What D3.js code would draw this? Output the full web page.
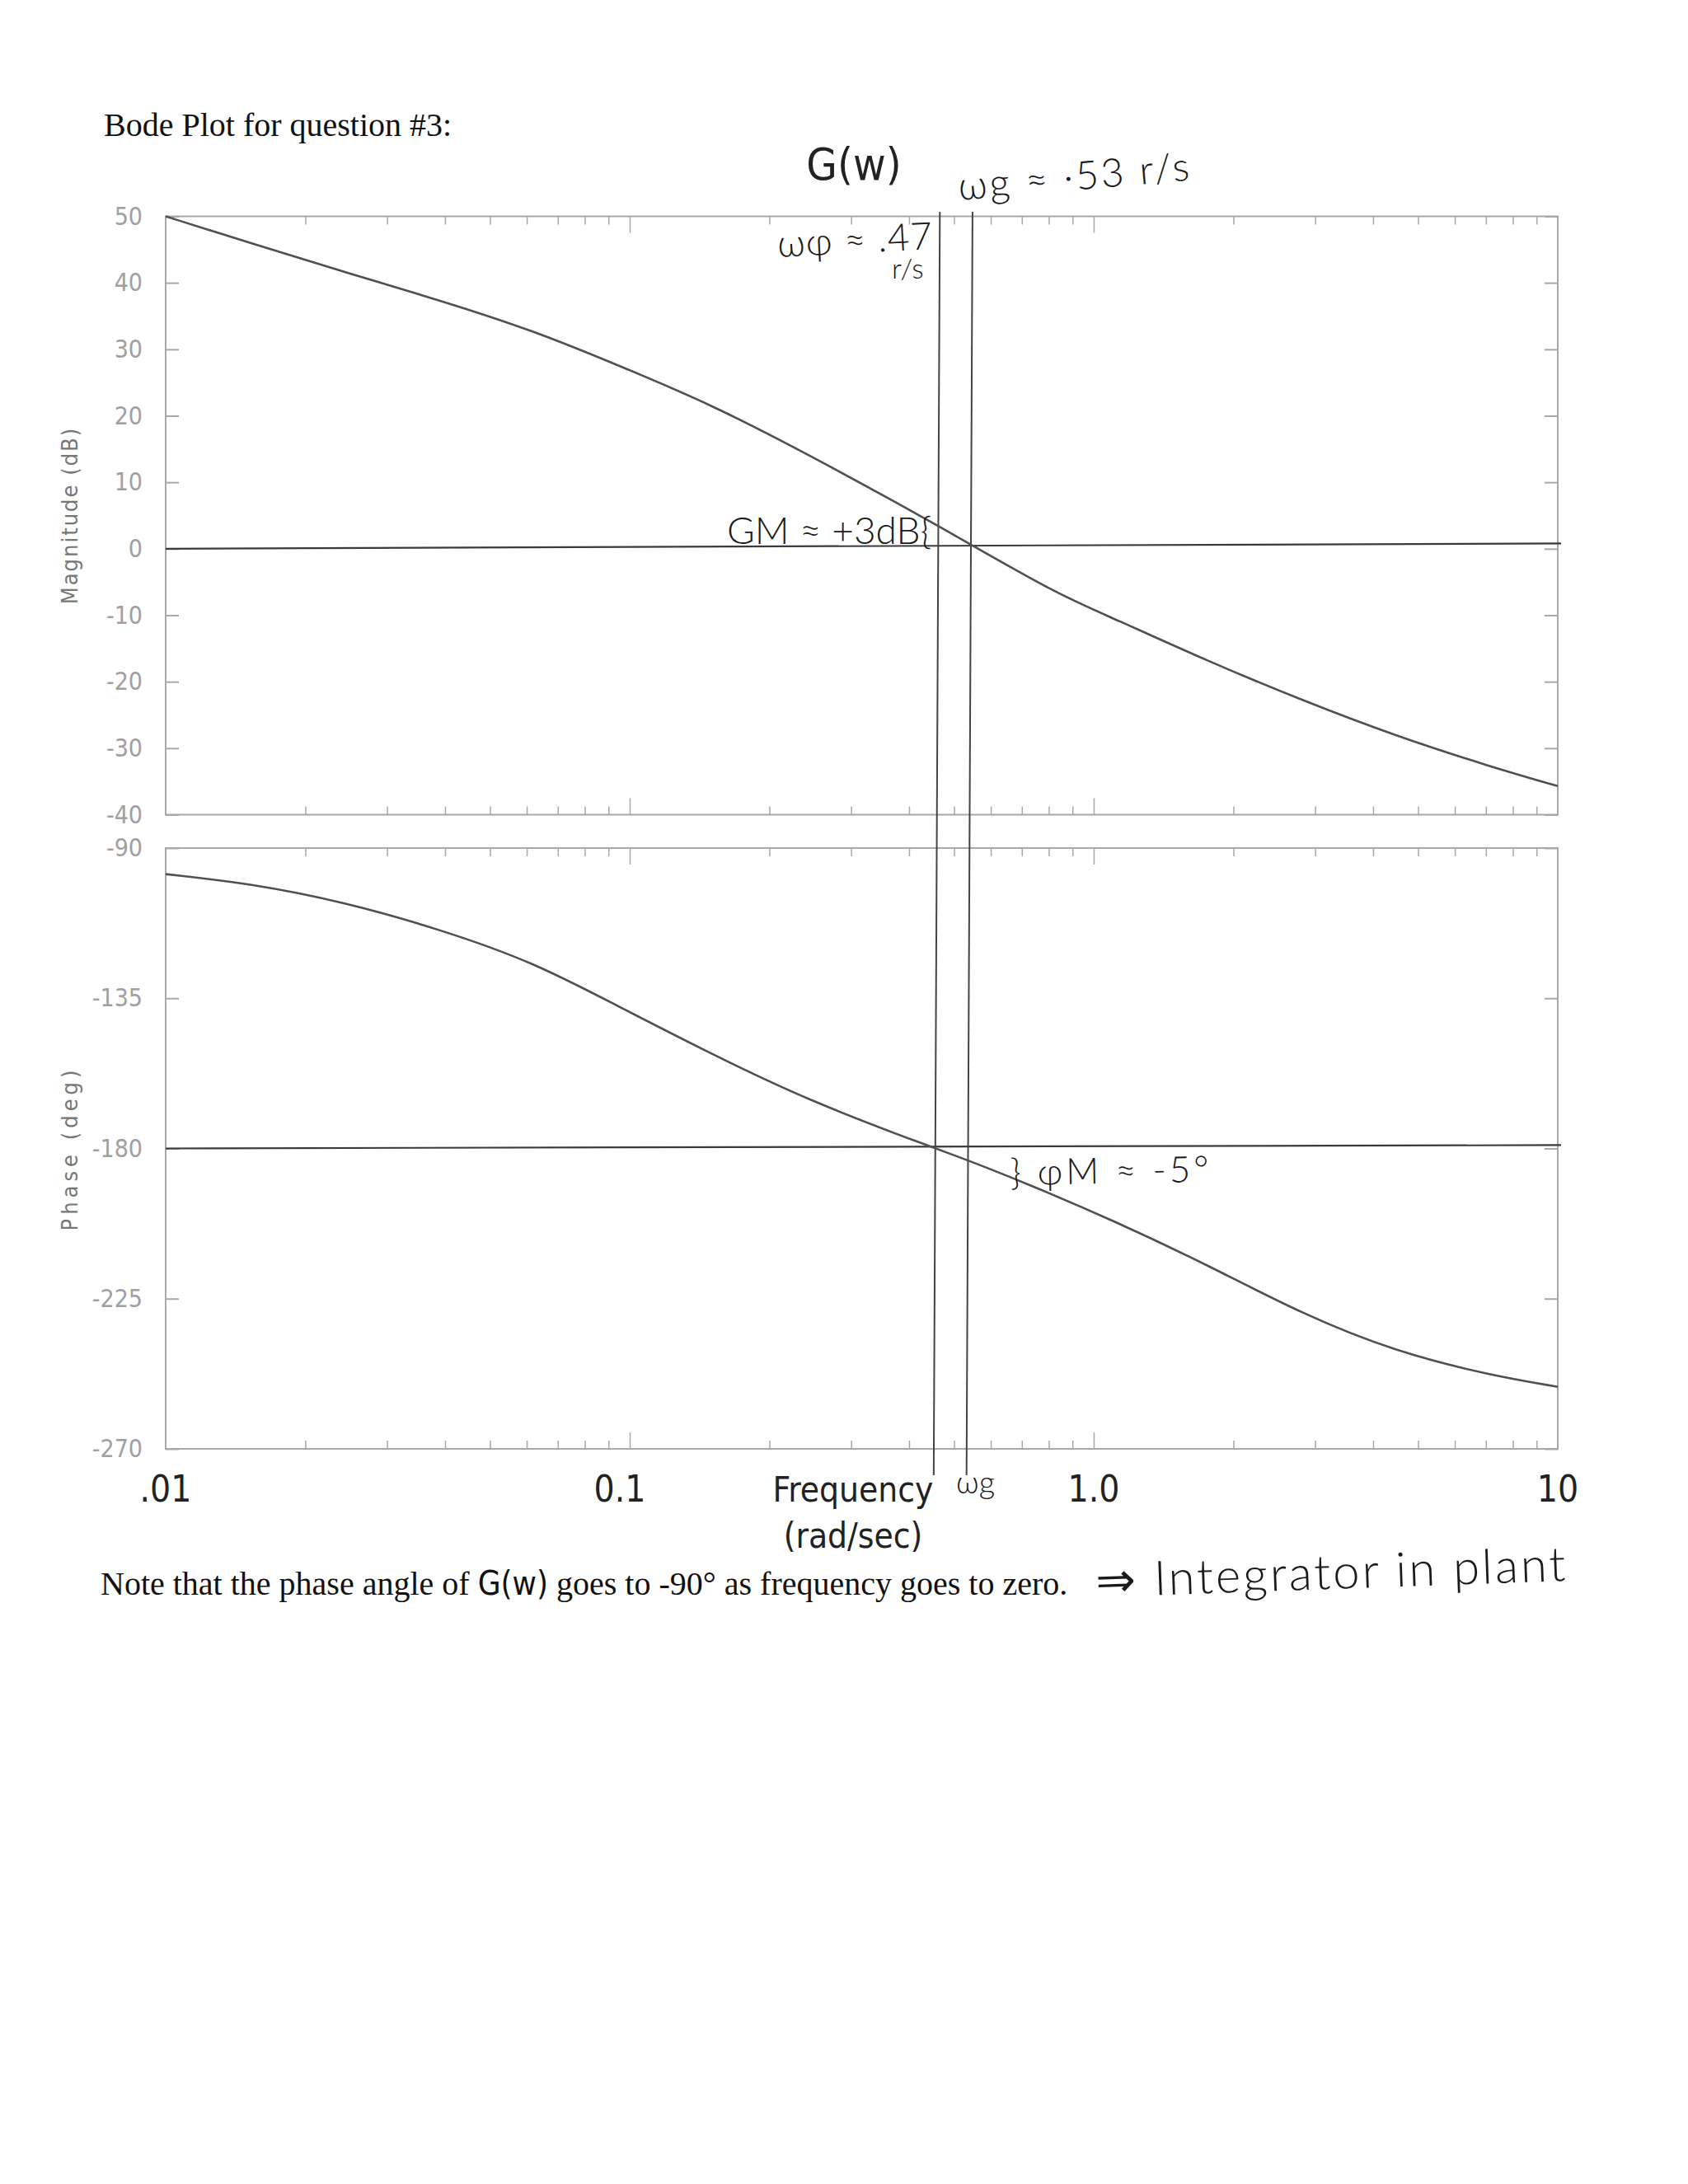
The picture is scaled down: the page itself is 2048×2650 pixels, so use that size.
<!DOCTYPE html>
<html>
<head>
<meta charset="utf-8">
<script src="https://cdn.jsdelivr.net/npm/d3@7"></script>
<style>
    body { margin: 0; background: #fff; }
    .hand { font-family: "Lato", "DejaVu Sans", sans-serif; font-weight: 300; fill: #1a1a1a; }
    .sans { font-family: "DejaVu Sans Condensed", "DejaVu Sans", sans-serif; font-stretch: condensed; }
    .serif { font-family: "Liberation Serif", "Times New Roman", serif; fill: #111; }
</style>
</head>
<body>
<div id="chart"></div>
<script>
// Frequencies (rad/sec) and values
const magFreq = [0.01, 0.0152, 0.0243, 0.0389, 0.0621, 0.0944, 0.151, 0.242, 0.386, 0.545, 0.845, 1.099, 1.76, 2.81, 4.49, 7.18, 10];
const magDb = [50, 46.0, 41.6, 37.4, 32.8, 27.6, 21.6, 14.2, 6.5, 0.6, -7.0, -10.4, -16.9, -22.8, -28.2, -32.8, -35.7];

const phaseFreq = [0.01, 0.0152, 0.0243, 0.0389, 0.0621, 0.0944, 0.151, 0.242, 0.451, 0.526, 0.72, 1.099, 1.76, 2.81, 4.49, 7.18, 10];
const phaseDeg = [-97.8, -100.6, -106.2, -114.3, -124.2, -137.4, -151.9, -165.6, -179.8, -183.1, -190.6, -201.5, -214.9, -229.6, -241.0, -248.0, -251.4];

// Axis ticks
const magTicks = [50, 40, 30, 20, 10, 0, -10, -20, -30, -40];
const phaseTicks = [-90, -135, -180, -225, -270];
const decadeTicks = [0.01, 0.1, 1, 10];
const decadeLabels = [".01", "0.1", "1.0", "10"];

// Hand drawn marker lines (freq at top and bottom of the pencil line)
const phiLine = [0.466, 0.452];   // w_phi ~ .47
const gainLine = [0.548, 0.532];  // w_g ~ .53

const width = 2048;
const height = 2650;

const svg = d3.select("#chart")
    .append("svg")
    .attr("width", width)
    .attr("height", height);

svg.append("rect").attr("width", width).attr("height", height).attr("fill", "#fff");

// Scales
const x = d3.scaleLog().domain([0.01, 10]).range([201, 1890]);
const yMag = d3.scaleLinear().domain([-40, 50]).range([988.5, 262.5]);
const yPh = d3.scaleLinear().domain([-270, -90]).range([1758, 1029]);

// minor log ticks 2..9 in each decade
const minorTicks = [];
[0.01, 0.1, 1].forEach(function (d) {
    for (let k = 2; k <= 9; k++) minorTicks.push(d * k);
});

const gray = "#a8a8a8";

function drawPanel(yScale, ticks) {
    const top = yScale.range()[1];
    const bottom = yScale.range()[0];
    const g = svg.append("g");

    // frame
    g.append("rect")
        .attr("x", x.range()[0]).attr("y", top)
        .attr("width", x.range()[1] - x.range()[0])
        .attr("height", bottom - top)
        .attr("fill", "none")
        .attr("stroke", gray)
        .attr("stroke-width", 2);

    // left axis with labels, ticks pointing inward
    g.append("g")
        .attr("transform", `translate(${x.range()[0]},0)`)
        .call(d3.axisLeft(yScale).tickValues(ticks).tickSize(-16).tickPadding(28).tickFormat(d => d))
        .call(a => a.select(".domain").remove())
        .call(a => a.selectAll("line").attr("stroke", gray).attr("stroke-width", 2))
        .call(a => a.selectAll("text").attr("class", "sans").attr("fill", "#a0a0a0").style("font-size", "30px"));

    // right axis, ticks only
    g.append("g")
        .attr("transform", `translate(${x.range()[1]},0)`)
        .call(d3.axisRight(yScale).tickValues(ticks).tickSize(-16).tickFormat(""))
        .call(a => a.select(".domain").remove())
        .call(a => a.selectAll("line").attr("stroke", gray).attr("stroke-width", 2));

    // top and bottom log ticks
    [[top, d3.axisTop], [bottom, d3.axisBottom]].forEach(function (p) {
        g.append("g")
            .attr("transform", `translate(0,${p[0]})`)
            .call(p[1](x).tickValues(minorTicks).tickSize(-10).tickFormat(""))
            .call(a => a.select(".domain").remove())
            .call(a => a.selectAll("line").attr("stroke", gray).attr("stroke-width", 1.5));
        g.append("g")
            .attr("transform", `translate(0,${p[0]})`)
            .call(p[1](x).tickValues([0.1, 1]).tickSize(-20).tickFormat(""))
            .call(a => a.select(".domain").remove())
            .call(a => a.selectAll("line").attr("stroke", gray).attr("stroke-width", 1.5));
    });
}

drawPanel(yMag, magTicks);
drawPanel(yPh, phaseTicks);

// Hand drawn reference lines: 0 dB and -180 deg
svg.append("line")
    .attr("x1", x(0.01)).attr("x2", x(10) + 4)
    .attr("y1", yMag(0)).attr("y2", yMag(0.8))
    .attr("stroke", "#3a3a3a").attr("stroke-width", 2.2);
svg.append("line")
    .attr("x1", x(0.01)).attr("x2", x(10) + 4)
    .attr("y1", yPh(-180)).attr("y2", yPh(-179))
    .attr("stroke", "#3a3a3a").attr("stroke-width", 2.2);

// vertical pencil lines at w_phi and w_g
[phiLine, gainLine].forEach(function (l) {
    svg.append("line")
        .attr("x1", x(l[0])).attr("y1", 257)
        .attr("x2", x(l[1])).attr("y2", 1790)
        .attr("stroke", "#444").attr("stroke-width", 2);
});

// Curves (smoothed through the read points)
const magLine = d3.line()
    .x((d, i) => x(magFreq[i]))
    .y(d => yMag(d))
    .curve(d3.curveBasis);

const phaseLine = d3.line()
    .x((d, i) => x(phaseFreq[i]))
    .y(d => yPh(d))
    .curve(d3.curveBasis);

svg.append("path").datum(magDb)
    .attr("d", magLine)
    .attr("fill", "none").attr("stroke", "#505050").attr("stroke-width", 2.6);

svg.append("path").datum(phaseDeg)
    .attr("d", phaseLine)
    .attr("fill", "none").attr("stroke", "#505050").attr("stroke-width", 2.6);

// Y axis titles
svg.append("text")
    .attr("class", "sans")
    .attr("transform", `translate(94,${(yMag.range()[0] + yMag.range()[1]) / 2}) rotate(-90)`)
    .attr("text-anchor", "middle")
    .attr("fill", "#777")
    .style("font-size", "27px")
    .style("letter-spacing", "2px")
    .text("Magnitude (dB)");

svg.append("text")
    .attr("class", "sans")
    .attr("transform", `translate(94,${(yPh.range()[0] + yPh.range()[1]) / 2}) rotate(-90)`)
    .attr("text-anchor", "middle")
    .attr("fill", "#777")
    .style("font-size", "27px")
    .style("letter-spacing", "5px")
    .text("Phase (deg)");

// Frequency labels under the phase plot
decadeTicks.forEach(function (d, i) {
    svg.append("text")
        .attr("class", "sans")
        .attr("x", x(d) + (i === 1 ? -12 : 0))
        .attr("y", 1822)
        .attr("text-anchor", "middle")
        .attr("fill", "#222")
        .style("font-size", "44px")
        .text(decadeLabels[i]);
});

svg.append("text").attr("class", "sans")
    .attr("x", 1035).attr("y", 1822).attr("text-anchor", "middle")
    .attr("fill", "#222").style("font-size", "42px")
    .text("Frequency");
svg.append("text").attr("class", "sans")
    .attr("x", 1035).attr("y", 1878).attr("text-anchor", "middle")
    .attr("fill", "#222").style("font-size", "42px")
    .text("(rad/sec)");

// Titles
svg.append("text").attr("class", "serif")
    .attr("x", 126).attr("y", 165)
    .style("font-size", "40px")
    .text("Bode Plot for question #3:");

svg.append("text").attr("class", "sans")
    .attr("x", 1036).attr("y", 218).attr("text-anchor", "middle")
    .attr("fill", "#222").style("font-size", "54px")
    .text("G(w)");

// Note line
const note = svg.append("text").attr("class", "serif")
    .attr("x", 122).attr("y", 1935)
    .style("font-size", "40px");
note.append("tspan").text("Note that the phase angle of ");
note.append("tspan").attr("class", "sans").attr("fill", "#111").text("G(w)");
note.append("tspan").text(" goes to -90\u00b0 as frequency goes to zero.");

// Handwritten annotations
function hand(txt, xPos, yPos, size, angle, spacing) {
    svg.append("text")
        .attr("class", "hand")
        .attr("transform", `translate(${xPos},${yPos}) rotate(${angle || 0})`)
        .style("font-size", size + "px")
        .style("letter-spacing", (spacing || 0) + "px")
        .text(txt);
}

hand("\u03c9g \u2248 \u00b753 r/s", 1164, 243, 48, -5, 3);
hand("\u03c9\u03c6 \u2248 .47", 944, 312, 46, -3, 1);
hand("r/s", 1082, 338, 34, 0);
hand("GM \u2248 +3dB{", 882, 660, 46, 0);
hand("} \u03c6M \u2248 -5\u00b0", 1226, 1438, 44, -1, 4);
hand("\u03c9g", 1160, 1812, 38, 0);
hand("\u21d2 Integrator  in  plant", 1330, 1938, 58, -2, 3);
</script>
</body>
</html>
